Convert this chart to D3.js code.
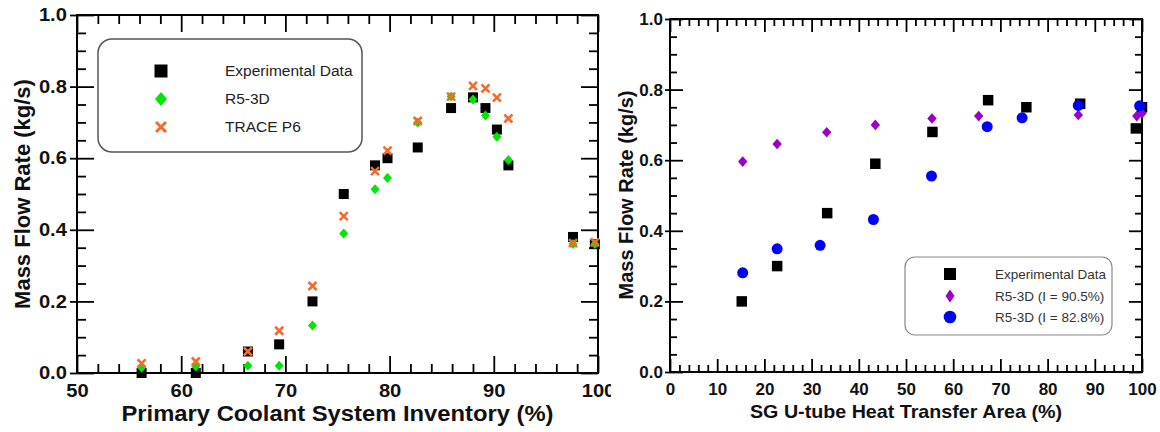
<!DOCTYPE html>
<html>
<head>
<meta charset="utf-8">
<script src="https://cdn.jsdelivr.net/npm/d3@7"></script>
<style>
body { margin: 0; background: #fff; }
svg { display: block; font-family: "Liberation Sans", Arial, sans-serif; }
</style>
</head>
<body>
<script>
var w = 1160;
var h = 432;

// Left chart: primary coolant inventory (%)
var leftX      = [56.2, 61.4, 66.4, 69.4, 72.6, 75.6, 78.6, 79.8, 82.7, 85.9, 88.0, 89.2, 90.3, 91.4, 97.6, 99.7];
var leftExp    = [0.0, 0.0, 0.06, 0.08, 0.20, 0.50, 0.58, 0.60, 0.63, 0.74, 0.77, 0.74, 0.68, 0.58, 0.38, 0.36];
var leftR5     = [0.015, 0.018, 0.02, 0.02, 0.133, 0.39, 0.513, 0.545, 0.70, 0.772, 0.764, 0.719, 0.66, 0.595, 0.36, 0.36];
var leftTrace  = [0.027, 0.032, 0.06, 0.118, 0.243, 0.438, 0.564, 0.621, 0.704, 0.772, 0.802, 0.795, 0.769, 0.711, 0.363, 0.365];
var leftLegend = ["Experimental Data", "R5-3D", "TRACE P6"];

// Right chart: SG U-tube heat transfer area (%)
var rightExpX  = [15.2, 22.7, 33.3, 43.5, 55.6, 67.4, 75.5, 86.9, 98.7, 100];
var rightExpY  = [0.20, 0.30, 0.45, 0.59, 0.68, 0.77, 0.75, 0.76, 0.69, 0.75];
var rightHiX   = [15.4, 22.7, 33.2, 43.5, 55.5, 65.4, 86.5, 98.9, 100];
var rightHiY   = [0.596, 0.646, 0.679, 0.70, 0.718, 0.725, 0.728, 0.725, 0.733];
var rightLoX   = [15.4, 22.7, 31.8, 43.1, 55.4, 67.2, 74.6, 86.5, 99.5];
var rightLoY   = [0.281, 0.349, 0.359, 0.432, 0.555, 0.695, 0.72, 0.755, 0.754];
var rightLegend = ["Experimental Data", "R5-3D (I = 90.5%)", "R5-3D (I = 82.8%)"];

// tick values
var leftXMajor  = [50, 60, 70, 80, 90, 100];
var leftXMinor  = d3.range(52, 100, 2).filter(function(d){ return d % 10 != 0; });
var rightXMajor = [0, 10, 20, 30, 40, 50, 60, 70, 80, 90, 100];
var rightXMinor = d3.range(2, 100, 2).filter(function(d){ return d % 10 != 0; });
var yMajor = [0, 0.2, 0.4, 0.6, 0.8, 1.0];
var yMinor = [0.05, 0.1, 0.15, 0.25, 0.3, 0.35, 0.45, 0.5, 0.55, 0.65, 0.7, 0.75, 0.85, 0.9, 0.95];

var green = "#00e600";
var orange = "#f36b2c";
var purple = "#9a00cc";
var blue = "#0000ff";

var svg = d3.select("body")
            .append("svg")
            .attr("width", w)
            .attr("height", h);

// the left panel's "100" label is cut off in the original figure
svg.append("defs").append("clipPath")
   .attr("id", "leftClip")
   .append("rect")
   .attr("x", 0).attr("y", 0)
   .attr("width", 611).attr("height", h);

function zip(a, b) {
    return a.map(function(d, i){ return [d, b[i]]; });
}

function diamond(hw, hh) {
    return "M0," + (-hh) + "L" + hw + ",0L0," + hh + "L" + (-hw) + ",0Z";
}

function cross(a) {
    return "M" + (-a) + "," + (-a) + "L" + a + "," + a + "M" + (-a) + "," + a + "L" + a + "," + (-a);
}

// frame + inward ticks on all four sides
function drawAxes(g, x, y, xMajor, xMinor, o) {
    var x0 = x.range()[0], x1 = x.range()[1];
    var yb = y.range()[0], yt = y.range()[1];

    function clean(sel) {
        sel.selectAll(".domain").remove();
        sel.selectAll("line").attr("stroke", "#000").attr("stroke-width", 1.8);
        return sel;
    }

    // bottom, labelled
    var b = g.append("g").attr("transform", "translate(0," + yb + ")")
        .call(d3.axisBottom(x).tickValues(xMajor).tickSize(-o.majIn).tickPadding(o.xPad).tickFormat(d3.format("d")));
    clean(b).selectAll("text")
        .style("font-size", o.tick + "px").style("font-weight", "bold").attr("fill", "#111")
        .attr("transform", "scale(" + o.stretch + ",1)");
    clean(g.append("g").attr("transform", "translate(0," + yb + ")")
        .call(d3.axisBottom(x).tickValues(xMinor).tickSize(-o.minIn).tickFormat("")));

    // top
    clean(g.append("g").attr("transform", "translate(0," + yt + ")")
        .call(d3.axisTop(x).tickValues(xMajor).tickSize(-o.majIn).tickFormat("")));
    clean(g.append("g").attr("transform", "translate(0," + yt + ")")
        .call(d3.axisTop(x).tickValues(xMinor).tickSize(-o.minIn).tickFormat("")));

    // left, labelled (outward stub), plus inward ticks
    var l = g.append("g").attr("transform", "translate(" + x0 + ",0)")
        .call(d3.axisLeft(y).tickValues(yMajor).tickSize(o.majOut).tickPadding(o.yPad).tickFormat(d3.format(".1f")));
    clean(l).selectAll("text")
        .style("font-size", o.tick + "px").style("font-weight", "bold").attr("fill", "#111")
        .attr("transform", "scale(" + o.stretch + ",1)");
    clean(g.append("g").attr("transform", "translate(" + x0 + ",0)")
        .call(d3.axisLeft(y).tickValues(yMajor).tickSize(-o.majIn).tickFormat("")));
    clean(g.append("g").attr("transform", "translate(" + x0 + ",0)")
        .call(d3.axisLeft(y).tickValues(yMinor).tickSize(-o.minIn).tickFormat("")));

    // right
    clean(g.append("g").attr("transform", "translate(" + x1 + ",0)")
        .call(d3.axisRight(y).tickValues(yMajor).tickSize(-o.majIn).tickFormat("")));
    clean(g.append("g").attr("transform", "translate(" + x1 + ",0)")
        .call(d3.axisRight(y).tickValues(yMinor).tickSize(-o.minIn).tickFormat("")));

    g.append("rect")
     .attr("x", x0).attr("y", yt)
     .attr("width", x1 - x0).attr("height", yb - yt)
     .attr("fill", "none")
     .attr("stroke", "#000")
     .attr("stroke-width", 2);
}

// ---------------- Left chart ----------------
var gL = svg.append("g").attr("clip-path", "url(#leftClip)");
var xL = d3.scaleLinear().domain([50, 100]).range([77, 598]);
var yL = d3.scaleLinear().domain([0, 1]).range([373, 15]);

drawAxes(gL, xL, yL, leftXMajor, leftXMinor,
    {majIn: 17, minIn: 9, majOut: 7, tick: 18, xPad: 11, yPad: 2, stretch: 1.12});

// legend
gL.append("rect")
  .attr("x", 98).attr("y", 39)
  .attr("width", 264).attr("height", 113)
  .attr("rx", 14).attr("ry", 14)
  .attr("fill", "#fff")
  .attr("stroke", "#555")
  .attr("stroke-width", 1.5);

var legL = gL.selectAll(".legL")
    .data(leftLegend)
    .enter()
    .append("g")
    .attr("class", "legL")
    .attr("transform", function(d, i){ return "translate(161," + (71 + i * 28) + ")"; });

legL.append("path")
    .attr("d", function(d, i) {
        if (i == 0) return d3.symbol().type(d3.symbolSquare).size(169)();
        if (i == 1) return diamond(6, 7);
        return cross(5);
    })
    .attr("fill", function(d, i){ return i == 0 ? "#000" : (i == 1 ? green : "none"); })
    .attr("stroke", function(d, i){ return i == 2 ? orange : "none"; })
    .attr("stroke-width", 3);

legL.append("text")
    .attr("x", 64)
    .attr("dy", "0.35em")
    .style("font-size", "15.5px")
    .attr("fill", "#222")
    .text(function(d){ return d; });

// points
gL.append("g").selectAll("path")
  .data(zip(leftX, leftExp))
  .enter()
  .append("path")
  .attr("transform", function(d){ return "translate(" + xL(d[0]) + "," + yL(d[1]) + ")"; })
  .attr("d", d3.symbol().type(d3.symbolSquare).size(100))
  .attr("fill", "#000");

gL.append("g").selectAll("path")
  .data(zip(leftX, leftR5))
  .enter()
  .append("path")
  .attr("transform", function(d){ return "translate(" + xL(d[0]) + "," + yL(d[1]) + ")"; })
  .attr("d", diamond(4.5, 5))
  .attr("fill", green);

gL.append("g").selectAll("path")
  .data(zip(leftX, leftTrace))
  .enter()
  .append("path")
  .attr("transform", function(d){ return "translate(" + xL(d[0]) + "," + yL(d[1]) + ")"; })
  .attr("d", cross(4))
  .attr("fill", "none")
  .attr("stroke", orange)
  .attr("stroke-width", 2.6);

// titles
gL.append("text")
  .attr("x", 337.5).attr("y", 421)
  .style("text-anchor", "middle")
  .style("font-size", "22px")
  .style("font-weight", "bold")
  .attr("textLength", 432)
  .attr("lengthAdjust", "spacingAndGlyphs")
  .attr("fill", "#111")
  .text("Primary Coolant System Inventory (%)");

gL.append("text")
  .attr("transform", "translate(29.5,194) rotate(-90)")
  .style("text-anchor", "middle")
  .style("font-size", "22px")
  .style("font-weight", "bold")
  .attr("fill", "#111")
  .text("Mass Flow Rate (kg/s)");

// ---------------- Right chart ----------------
var gR = svg.append("g");
var xR = d3.scaleLinear().domain([0, 100]).range([670, 1142]);
var yR = d3.scaleLinear().domain([0, 1]).range([372, 19]);

drawAxes(gR, xR, yR, rightXMajor, rightXMinor,
    {majIn: 13, minIn: 7, majOut: 5, tick: 17, xPad: 11, yPad: 2, stretch: 1});

gR.append("g").selectAll("path")
  .data(zip(rightExpX, rightExpY))
  .enter()
  .append("path")
  .attr("transform", function(d){ return "translate(" + xR(d[0]) + "," + yR(d[1]) + ")"; })
  .attr("d", d3.symbol().type(d3.symbolSquare).size(110))
  .attr("fill", "#000");

gR.append("g").selectAll("path")
  .data(zip(rightHiX, rightHiY))
  .enter()
  .append("path")
  .attr("transform", function(d){ return "translate(" + xR(d[0]) + "," + yR(d[1]) + ")"; })
  .attr("d", diamond(4.7, 5.3))
  .attr("fill", purple);

gR.append("g").selectAll("circle")
  .data(zip(rightLoX, rightLoY))
  .enter()
  .append("circle")
  .attr("cx", function(d){ return xR(d[0]); })
  .attr("cy", function(d){ return yR(d[1]); })
  .attr("r", 5.5)
  .attr("fill", blue);

// legend
gR.append("rect")
  .attr("x", 905).attr("y", 257)
  .attr("width", 207).attr("height", 78)
  .attr("rx", 10).attr("ry", 10)
  .attr("fill", "#fff")
  .attr("stroke", "#888")
  .attr("stroke-width", 1.2);

var legR = gR.selectAll(".legR")
    .data(rightLegend)
    .enter()
    .append("g")
    .attr("class", "legR")
    .attr("transform", function(d, i){ return "translate(950," + [274, 296, 317][i] + ")"; });

legR.append("path")
    .attr("d", function(d, i) {
        if (i == 0) return d3.symbol().type(d3.symbolSquare).size(144)();
        if (i == 1) return diamond(4.5, 6.5);
        return d3.symbol().type(d3.symbolCircle).size(Math.PI * 6.3 * 6.3)();
    })
    .attr("fill", function(d, i){ return [ "#000", purple, blue ][i]; });

legR.append("text")
    .attr("x", 45)
    .attr("dy", "0.35em")
    .style("font-size", "13.5px")
    .attr("fill", "#333")
    .text(function(d){ return d; });

// titles
gR.append("text")
  .attr("x", 906).attr("y", 418)
  .style("text-anchor", "middle")
  .style("font-size", "19px")
  .style("font-weight", "bold")
  .attr("textLength", 312)
  .attr("lengthAdjust", "spacingAndGlyphs")
  .attr("fill", "#111")
  .text("SG U-tube Heat Transfer Area (%)");

gR.append("text")
  .attr("transform", "translate(633,195) rotate(-90)")
  .style("text-anchor", "middle")
  .style("font-size", "20px")
  .style("font-weight", "bold")
  .attr("fill", "#111")
  .text("Mass Flow Rate (kg/s)");
</script>
</body>
</html>
